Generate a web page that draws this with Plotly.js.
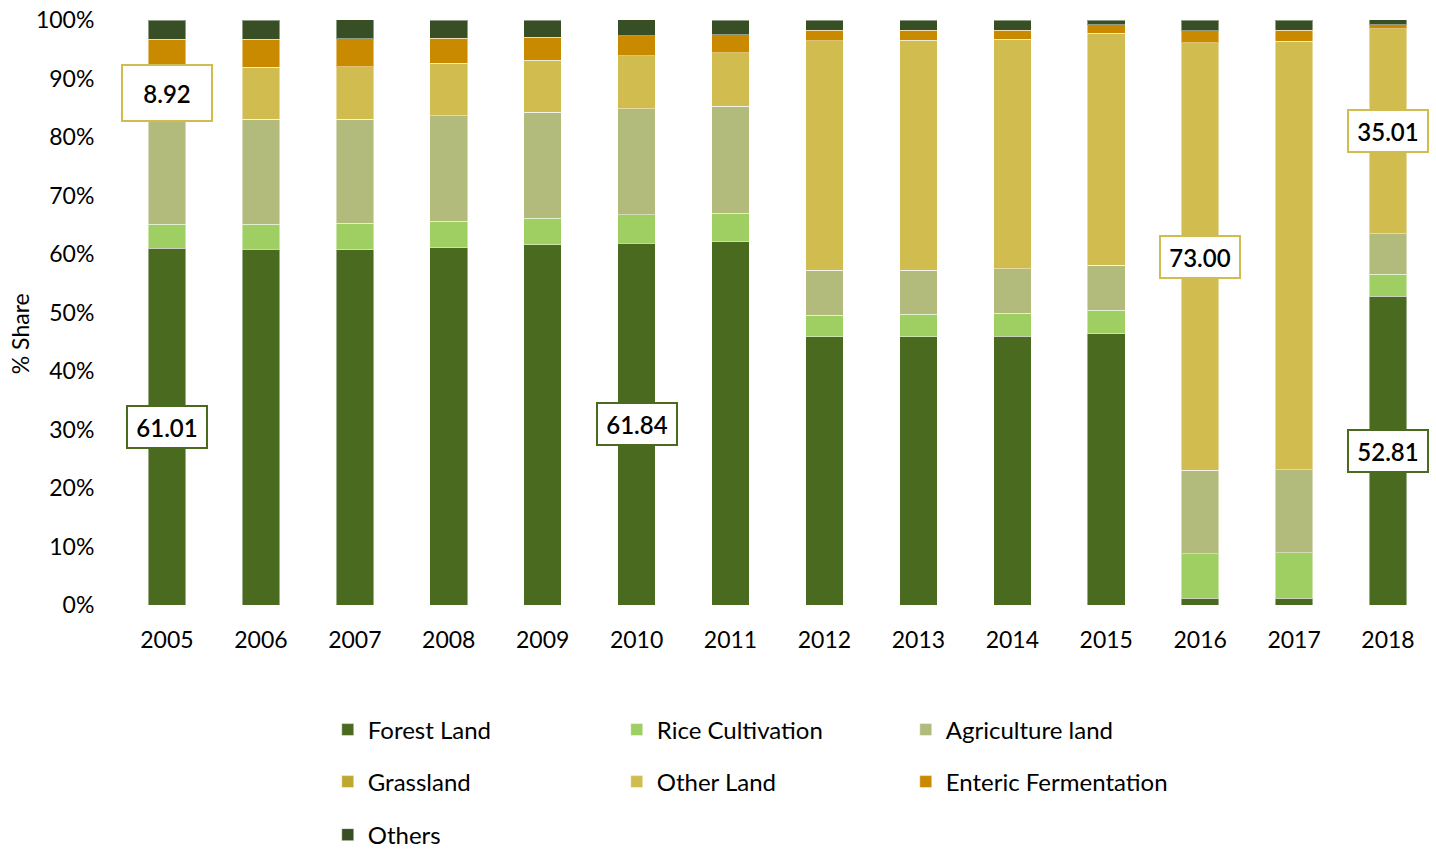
<!DOCTYPE html>
<html>
<head>
<meta charset="utf-8">
<script src="https://cdn.plot.ly/plotly-3.0.1.min.js"></script>
<style>html,body{margin:0;padding:0;background:#fff;}#chart{width:1436px;height:850px;}</style>
</head>
<body>
<div id="chart"></div>
<script>
const years = ['2005','2006','2007','2008','2009','2010','2011','2012','2013','2014','2015','2016','2017','2018'];
const forestLand = [61.01, 60.80, 60.74, 61.08, 61.60, 61.84, 62.10, 45.86, 45.86, 45.98, 46.38, 1.14, 1.14, 52.81];
const riceCultivation = [4.10, 4.27, 4.51, 4.50, 4.50, 4.85, 4.90, 3.65, 3.82, 3.88, 4.00, 7.63, 7.80, 3.76];
const agricultureLand = [17.98, 17.95, 17.78, 18.05, 18.10, 18.10, 18.30, 7.70, 7.58, 7.58, 7.69, 14.30, 14.19, 6.90];
const grassland = [0, 0, 0, 0, 0, 0, 0, 0, 0, 0, 0, 0, 0, 0];
const otherLand = [8.92, 8.94, 8.94, 9.00, 8.94, 9.10, 9.06, 39.25, 39.30, 39.30, 39.66, 73.00, 73.28, 35.01];
const entericFermentation = [4.73, 4.79, 4.79, 4.27, 3.93, 3.42, 3.08, 1.82, 1.71, 1.54, 1.42, 2.10, 1.88, 0.73];
const others = [3.25, 3.25, 3.25, 3.08, 2.90, 2.74, 2.56, 1.71, 1.71, 1.71, 0.85, 1.82, 1.71, 0.80];

const seriesNames = ['Forest Land','Rice Cultivation','Agriculture land','Grassland','Other Land','Enteric Fermentation','Others'];
const seriesData = [forestLand, riceCultivation, agricultureLand, grassland, otherLand, entericFermentation, others];
const colors = ['#4A6A20','#9FCE63','#B2BB7B','#BFA830','#D1BC50','#C98A00','#384F25'];
const legendIds = ['legend','legend','legend','legend2','legend2','legend2','legend3'];

const traces = seriesNames.map((name, i) => ({
  type: 'bar',
  name: name,
  x: years,
  y: seriesData[i],
  marker: {color: colors[i], line: {color: 'rgba(255,255,255,0.45)', width: 1}},
  legend: legendIds[i],
  hoverinfo: 'x+y+name'
}));

// labelled segments: [year index, series index, box width, box height]
const labelled = [[0,4,86,52],[0,0,76,38],[5,0,76,38],[11,4,76,38],[13,4,76,38],[13,0,76,38]];
const annotations = labelled.map(([yi, si, w, h]) => {
  let base = 0;
  for (let k = 0; k < si; k++) base += seriesData[k][yi];
  const v = seriesData[si][yi];
  return {
    x: yi, y: base + v / 2, xref: 'x', yref: 'y',
    text: v.toFixed(2), showarrow: false,
    font: {family: 'Lato, sans-serif', size: 24, color: '#000', weight: 600},
    bgcolor: '#fff', bordercolor: colors[si], borderwidth: 2,
    width: w, height: h, valign: 'middle'
  };
});
annotations.push({
  x: -0.076, y: 0.463, xref: 'paper', yref: 'paper', textangle: -90,
  text: '% Share', showarrow: false, xanchor: 'center', yanchor: 'middle',
  font: {family: 'Lato, sans-serif', size: 23, color: '#000'}
});

const legendBase = {
  orientation: 'h', xanchor: 'left', yanchor: 'middle', x: 0.158,
  yref: 'container',
  font: {family: 'Lato, sans-serif', size: 24, color: '#000'},
  entrywidth: 244, entrywidthmode: 'pixels', traceorder: 'normal',
  bgcolor: 'rgba(0,0,0,0)'
};

const layout = {
  width: 1436, height: 850,
  margin: {l: 120, r: 1, t: 20, b: 245, autoexpand: false},
  paper_bgcolor: '#fff', plot_bgcolor: '#fff',
  barmode: 'stack', bargap: 0.6,
  font: {family: 'Lato, sans-serif', color: '#000'},
  xaxis: {
    type: 'category', range: [-0.5, 13.5], autorange: false,
    showgrid: false, zeroline: false, showline: false,
    ticks: 'outside', ticklen: 14, tickcolor: 'rgba(0,0,0,0)',
    tickfont: {family: 'Lato, sans-serif', size: 23, color: '#000'}
  },
  yaxis: {
    range: [0, 100], autorange: false, dtick: 10, tick0: 0, ticksuffix: '%',
    showgrid: false, zeroline: false, showline: false,
    ticks: 'outside', ticklen: 20, tickcolor: 'rgba(0,0,0,0)',
    tickfont: {family: 'Lato, sans-serif', size: 23, color: '#000'}
  },
  legend: Object.assign({}, legendBase, {y: 0.1412}),
  legend2: Object.assign({}, legendBase, {y: 0.08}),
  legend3: Object.assign({}, legendBase, {y: 0.0176}),
  annotations: annotations,
  showlegend: true
};

Plotly.newPlot('chart', traces, layout, {displayModeBar: false, staticPlot: true});
</script>
</body>
</html>
